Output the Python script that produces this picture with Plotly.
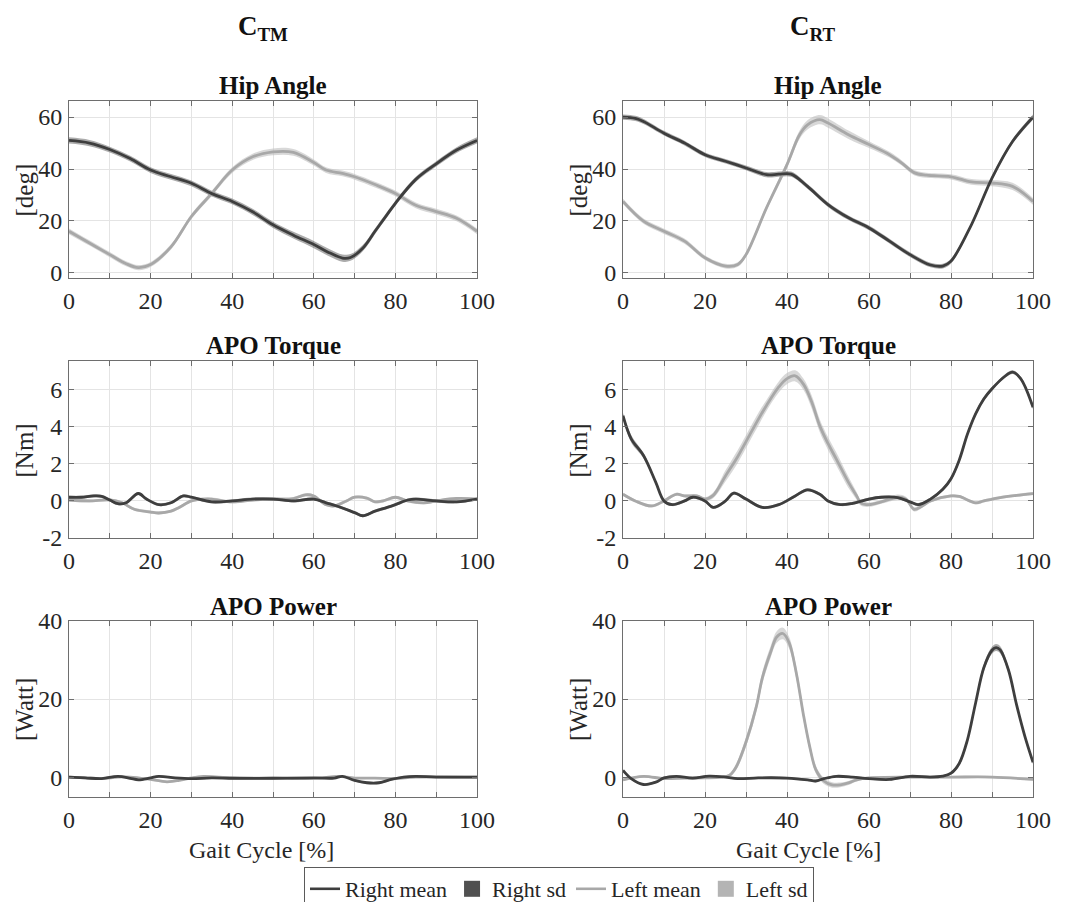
import plotly.graph_objects as go

# ---------------- data: (gait cycle %, mean, sd) ----------------
hip_tm_right = [(0, 51, 1.2), (5, 50, 1.2), (10, 47.5, 1.1), (15, 44, 1.1), (20, 39.6, 1.1), (25, 37, 1.1),
                (30, 34.5, 1.1), (35, 30.5, 1.1), (40, 27.5, 1.1), (45, 23.5, 1.2), (50, 18.5, 1.2),
                (55, 14.5, 1.3), (60, 10.9, 1.4), (64, 7.6, 1.4), (67, 5.7, 1.4), (69, 5.9, 1.3),
                (72, 9.5, 1.2), (75, 16, 1.1), (78, 22.5, 1.0), (80, 26.8, 1.0), (85, 36, 1.0), (90, 42, 1.0),
                (95, 47.3, 1.1), (100, 51, 1.2)]
hip_tm_left = [(0, 16, 1.1), (5, 11.5, 1.0), (10, 7, 1.0), (14, 3.5, 1.0), (17, 2, 1.0), (20, 3.2, 1.0),
               (25, 10, 1.0), (30, 21.7, 1.0), (35, 30.6, 1.0), (40, 39.6, 1.1), (45, 44.7, 1.2),
               (50, 46.6, 1.3), (55, 46.4, 1.3), (60, 42.5, 1.2), (63, 39.6, 1.1), (67, 38.3, 1.1),
               (70, 37, 1.1), (75, 34, 1.1), (80, 30.6, 1.1), (85, 26, 1.1), (90, 23.6, 1.1), (95, 21, 1.1),
               (100, 16, 1.1)]
hip_rt_right = [(0, 60, 1.0), (3, 59.5, 1.0), (5, 58.3, 1.0), (10, 53.8, 0.9), (15, 50, 0.9), (20, 45.5, 0.9),
                (25, 43, 0.9), (30, 40.4, 0.9), (35, 37.8, 1.0), (38, 38, 1.0), (41, 38, 1.0), (45, 33.3, 0.9),
                (50, 26.3, 0.9), (55, 21.2, 0.9), (60, 17.3, 0.9), (65, 12.2, 0.9), (70, 7, 0.9), (75, 3, 0.9),
                (78, 2.6, 0.9), (80, 4.5, 0.9), (85, 18.6, 0.8), (90, 36.5, 0.8), (95, 50.6, 0.9), (100, 60, 1.0)]
hip_rt_left = [(0, 27.5, 1.0), (5, 19.9, 1.0), (10, 16, 1.0), (15, 12.2, 1.0), (20, 5.8, 0.9), (25, 2.6, 0.9),
               (28, 3.2, 0.9), (30, 7, 0.9), (35, 25, 1.0), (40, 41.7, 1.3), (43, 53, 1.6), (45, 57, 1.8),
               (48, 59, 1.8), (50, 57.7, 1.8), (55, 53.2, 1.6), (60, 49.4, 1.3), (65, 45.5, 1.1),
               (68, 42.3, 1.0), (71, 38.6, 1.0), (74, 37.6, 1.0), (80, 37, 1.0), (85, 35, 1.1),
               (90, 34.6, 1.2), (95, 33.3, 1.4), (100, 27.5, 1.3)]

tq_tm_right = [(0, 0.2, 0.08), (3, 0.2, 0.08), (6, 0.27, 0.08), (8, 0.25, 0.08), (10, 0.05, 0.08),
               (12, -0.15, 0.08), (14, -0.1, 0.08), (17, 0.4, 0.08), (19, 0.1, 0.08), (22, -0.2, 0.08),
               (25, -0.1, 0.08), (28, 0.27, 0.08), (30, 0.2, 0.08), (35, -0.05, 0.08), (40, 0, 0.08),
               (45, 0.1, 0.08), (50, 0.1, 0.08), (55, 0, 0.08), (60, 0.1, 0.08), (63, -0.1, 0.08),
               (66, -0.3, 0.08), (70, -0.63, 0.08), (72, -0.8, 0.08), (75, -0.55, 0.08), (78, -0.35, 0.08),
               (80, -0.2, 0.08), (83, 0.05, 0.08), (85, 0.1, 0.08), (90, 0, 0.08), (95, -0.05, 0.08),
               (100, 0.1, 0.08)]
tq_tm_left = [(0, 0.05, 0.08), (5, 0, 0.08), (10, 0.05, 0.08), (13, -0.1, 0.08), (16, -0.45, 0.08),
              (20, -0.6, 0.08), (22, -0.65, 0.08), (25, -0.55, 0.08), (27, -0.35, 0.08), (30, 0, 0.08),
              (33, 0.1, 0.08), (35, 0.1, 0.08), (40, -0.05, 0.08), (45, 0.05, 0.08), (50, 0.1, 0.08),
              (55, 0.13, 0.08), (58, 0.33, 0.08), (60, 0.27, 0.08), (63, -0.2, 0.08), (65, -0.27, 0.08),
              (68, 0, 0.08), (70, 0.2, 0.08), (73, 0.15, 0.08), (75, -0.05, 0.08), (77, 0, 0.08),
              (80, 0.2, 0.08), (83, 0, 0.08), (87, -0.1, 0.08), (90, 0, 0.08), (95, 0.13, 0.08),
              (100, 0.1, 0.08)]
tq_rt_right = [(0, 4.6, 0.15), (2, 3.35, 0.2), (5, 2.45, 0.15), (8, 1, 0.1), (10, 0, 0.08), (12, -0.2, 0.08),
               (15, 0, 0.08), (17, 0.2, 0.08), (20, 0, 0.08), (22, -0.35, 0.08), (25, 0, 0.08),
               (27, 0.42, 0.08), (30, 0.1, 0.08), (34, -0.35, 0.08), (38, -0.2, 0.08), (42, 0.27, 0.08),
               (45, 0.6, 0.08), (48, 0.36, 0.08), (50, 0, 0.08), (53, -0.2, 0.08), (56, -0.13, 0.08),
               (60, 0.1, 0.08), (63, 0.2, 0.08), (67, 0.18, 0.08), (70, -0.05, 0.08), (72, -0.2, 0.08),
               (75, 0.1, 0.08), (78, 0.63, 0.1), (80, 1.2, 0.12), (82, 2.2, 0.12), (84, 3.6, 0.12),
               (86, 4.7, 0.12), (88, 5.5, 0.12), (90, 6.05, 0.1), (93, 6.7, 0.1), (95, 6.95, 0.1),
               (97, 6.6, 0.1), (100, 5.05, 0.1)]
tq_rt_left = [(0, 0.36, 0.08), (3, 0, 0.08), (7, -0.27, 0.08), (10, 0, 0.08), (13, 0.36, 0.08),
              (15, 0.27, 0.08), (18, 0.27, 0.08), (20, 0.1, 0.1), (22, 0.3, 0.15), (25, 1.35, 0.3),
              (28, 2.4, 0.35), (30, 3.2, 0.35), (33, 4.4, 0.35), (35, 5.15, 0.3), (38, 6.15, 0.3),
              (40, 6.6, 0.3), (42, 6.75, 0.3), (44, 6.3, 0.3), (46, 5.35, 0.35), (48, 4.05, 0.35),
              (50, 3.1, 0.35), (52, 2.27, 0.35), (55, 1, 0.3), (57, 0.27, 0.2), (58, -0.1, 0.15),
              (60, -0.2, 0.12), (63, -0.05, 0.1), (67, 0.2, 0.15), (69, 0.1, 0.12), (71, -0.45, 0.12),
              (73, -0.27, 0.1), (75, 0, 0.08), (80, 0.27, 0.08), (82, 0.24, 0.08), (86, -0.1, 0.08),
              (88, 0, 0.08), (92, 0.18, 0.08), (96, 0.3, 0.08), (100, 0.4, 0.08)]

pw_tm_right = [(0, 0, 0.25), (4, -0.2, 0.25), (8, -0.4, 0.25), (12, 0.2, 0.25), (15, -0.3, 0.25),
               (17, -0.7, 0.25), (20, -0.2, 0.25), (22, 0.2, 0.25), (26, -0.2, 0.25), (30, -0.4, 0.25),
               (35, -0.2, 0.25), (40, -0.3, 0.25), (50, -0.3, 0.25), (60, -0.2, 0.25), (65, -0.25, 0.25),
               (67, 0.2, 0.25), (70, -0.85, 0.25), (73, -1.45, 0.3), (76, -1.45, 0.3), (79, -0.6, 0.25),
               (82, 0, 0.25), (85, 0.2, 0.25), (90, 0, 0.25), (100, 0, 0.25)]
pw_tm_left = [(0, 0, 0.25), (4, -0.2, 0.25), (8, -0.4, 0.25), (12, 0, 0.25), (15, 0, 0.25), (20, -0.6, 0.25),
              (24, -1.2, 0.3), (27, -0.85, 0.25), (30, -0.2, 0.25), (33, 0.2, 0.25), (40, -0.2, 0.25),
              (50, -0.25, 0.25), (58, -0.4, 0.25), (62, -0.2, 0.25), (66, 0.2, 0.25), (70, -0.25, 0.25),
              (75, -0.25, 0.25), (80, -0.4, 0.25), (85, 0, 0.25), (100, 0, 0.25)]
pw_rt_right = [(0, 1.7, 0.3), (2, -0.4, 0.3), (5, -1.9, 0.3), (8, -1.3, 0.3), (10, -0.2, 0.3), (13, 0.2, 0.3),
               (17, -0.25, 0.3), (21, 0.25, 0.3), (25, 0, 0.3), (28, -0.4, 0.3), (33, -0.2, 0.3),
               (40, -0.25, 0.3), (45, -0.7, 0.3), (47, -1, 0.3), (49, -0.4, 0.3), (52, 0.2, 0.3),
               (56, 0, 0.3), (60, -0.4, 0.3), (65, -0.6, 0.3), (70, 0.2, 0.3), (75, 0, 0.3),
               (78, 0.25, 0.3), (80, 1.0, 0.4), (82, 3.5, 0.5), (84, 9.5, 0.7), (86, 19, 0.8),
               (88, 28, 0.9), (90, 32.5, 0.9), (91, 33.2, 0.9), (92, 32.6, 0.9), (94, 27.5, 0.8),
               (96, 18.5, 0.7), (98, 10.5, 0.6), (100, 3.8, 0.5)]
pw_rt_left = [(0, -0.7, 0.3), (5, 0.2, 0.3), (10, -0.4, 0.3), (15, -0.25, 0.3), (20, -0.2, 0.3), (24, 0, 0.3),
              (26, 0.5, 0.4), (27.6, 2.6, 0.8), (30, 9, 1.2), (32.5, 18, 1.4), (34, 25.5, 1.5),
              (36, 32, 1.5), (37.5, 35.9, 1.5), (39, 36.8, 1.5), (40.5, 34.5, 1.5), (42.3, 26.5, 1.5),
              (44, 16, 1.4), (45.5, 8, 1.2), (47, 2, 1.0), (49, -1, 0.8), (51, -2, 0.7), (53, -2, 0.6),
              (55, -1.5, 0.5), (57, -0.7, 0.4), (60, -0.2, 0.3), (70, 0, 0.3), (80, 0, 0.3), (90, 0, 0.3),
              (100, -0.6, 0.3)]

panel_titles = ["Hip Angle", "APO Torque", "APO Power"]
y_labels = ["[deg]", "[Nm]", "[Watt]"]
y_ranges = [[-2, 66.2], [-2, 7.55], [-5.1, 40]]
y_ticks = [[0, 20, 40, 60], [-2, 0, 2, 4, 6], [0, 20, 40]]
x_ticks = [0, 20, 40, 60, 80, 100]
x_minor_step = 10
column_titles = ["<b>C<sub>TM</sub></b>", "<b>C<sub>RT</sub></b>"]
x_title = "Gait Cycle [%]"
legend_names = ["Right mean", "Right sd", "Left mean", "Left sd"]

panels = [  # (row, col, right series, left series)
    (0, 0, hip_tm_right, hip_tm_left), (0, 1, hip_rt_right, hip_rt_left),
    (1, 0, tq_tm_right, tq_tm_left), (1, 1, tq_rt_right, tq_rt_left),
    (2, 0, pw_tm_right, pw_tm_left), (2, 1, pw_rt_right, pw_rt_left),
]

# ---------------- style ----------------
OFF = 8                      # page body margin of the browser
W, H = 1067 - OFF, 902 - OFF
FONT = "Liberation Serif"
TXT = "#262626"
AX = "#6e6e6e"
GRID = "#e4e4e4"
RIGHT_LINE = "#3e3e3e"
LEFT_LINE = "#a8a8a8"
RIGHT_BAND = "rgba(70,70,70,0.45)"
LEFT_BAND = "rgba(190,190,190,0.6)"
RIGHT_SD_LEG = "#505050"
LEFT_SD_LEG = "#b4b4b4"

# layout positions in screenshot pixels
col_px = [(69, 477), (623, 1033)]
row_px = [(101, 278), (361, 538), (621, 797)]


def fx(p):
    return (p - OFF) / W


def fy(p):
    return 1 - (p - OFF) / H


fig = go.Figure()
layout_axes = {}
annotations = []

for row, col, right, left in panels:
    n = row * 2 + col + 1
    sfx = "" if n == 1 else str(n)
    xa, ya = "x" + sfx, "y" + sfx

    def band(series, color):
        xs = [p[0] for p in series]
        lo = [p[1] - p[2] for p in series]
        hi = [p[1] + p[2] for p in series]
        fig.add_trace(go.Scatter(x=xs, y=lo, mode="lines", line=dict(width=0, shape="spline"),
                                 xaxis=xa, yaxis=ya, showlegend=False, hoverinfo="skip"))
        fig.add_trace(go.Scatter(x=xs, y=hi, mode="lines", line=dict(width=0, shape="spline"),
                                 fill="tonexty", fillcolor=color,
                                 xaxis=xa, yaxis=ya, showlegend=False, hoverinfo="skip"))

    def mean(series, color):
        fig.add_trace(go.Scatter(x=[p[0] for p in series], y=[p[1] for p in series], mode="lines",
                                 line=dict(width=2.8, color=color, shape="spline"),
                                 xaxis=xa, yaxis=ya, showlegend=False))

    band(left, LEFT_BAND)
    band(right, RIGHT_BAND)
    mean(left, LEFT_LINE)
    mean(right, RIGHT_LINE)

    x0, x1 = col_px[col]
    y0, y1 = row_px[row]
    common = dict(showline=True, linecolor=AX, linewidth=1, mirror="ticks", ticks="inside", ticklen=5,
                  tickcolor=AX, showgrid=True, gridcolor=GRID, gridwidth=1, zeroline=False,
                  automargin=False, fixedrange=True,
                  tickfont=dict(family=FONT, size=24, color=TXT))
    layout_axes["xaxis" + sfx] = dict(
        domain=[fx(x0), fx(x1)], anchor=ya, range=[0, 100], tickvals=x_ticks, ticklabelstandoff=1,
        minor=dict(dtick=x_minor_step, tick0=0, ticks="inside", ticklen=5, tickcolor=AX,
                   showgrid=True, gridcolor=GRID, gridwidth=1),
        **common)
    layout_axes["yaxis" + sfx] = dict(
        domain=[fy(y1), fy(y0)], anchor=xa, range=y_ranges[row], tickvals=y_ticks[row],
        ticktext=[str(v) for v in y_ticks[row]], ticklabelstandoff=1, **common)

    # subplot title
    annotations.append(dict(text="<b>" + panel_titles[row] + "</b>", x=fx((x0 + x1) / 2), y=fy(y0 - 15),
                            xref="paper", yref="paper", xanchor="center", yanchor="middle", showarrow=False,
                            font=dict(family=FONT, size=25, color="#111111")))
    # y label
    annotations.append(dict(text=y_labels[row], x=fx(24 if col == 0 else 578), y=fy((y0 + y1) / 2 + 1),
                            xref="paper", yref="paper", xanchor="center", yanchor="middle", showarrow=False,
                            textangle=-90, font=dict(family=FONT, size=25, color=TXT)))

# column titles and x titles
for col, (cx, gx) in enumerate([(263, 261), (812, 808)]):
    annotations.append(dict(text=column_titles[col], x=fx(cx), y=fy(28), xref="paper", yref="paper",
                            xanchor="center", yanchor="middle", showarrow=False,
                            font=dict(family=FONT, size=27, color="#111111")))
    annotations.append(dict(text=x_title, x=fx(gx), y=fy(850), xref="paper", yref="paper",
                            xanchor="center", yanchor="middle", showarrow=False,
                            font=dict(family=FONT, size=24, color=TXT)))

# legend entries
fig.add_trace(go.Scatter(x=[None], y=[None], mode="lines", name=legend_names[0],
                         line=dict(color=RIGHT_LINE, width=2.6)))
fig.add_trace(go.Scatter(x=[None], y=[None], mode="markers", name=legend_names[1],
                         marker=dict(symbol="square", size=16, color=RIGHT_SD_LEG)))
fig.add_trace(go.Scatter(x=[None], y=[None], mode="lines", name=legend_names[2],
                         line=dict(color=LEFT_LINE, width=2.6)))
fig.add_trace(go.Scatter(x=[None], y=[None], mode="markers", name=legend_names[3],
                         marker=dict(symbol="square", size=16, color=LEFT_SD_LEG)))

fig.update_layout(
    width=W, height=H, margin=dict(l=0, r=0, t=0, b=0, autoexpand=False),
    paper_bgcolor="white", plot_bgcolor="white",
    annotations=annotations,
    showlegend=True,
    legend=dict(orientation="h", x=fx(559), xanchor="center", y=fy(867), yanchor="top",
                bordercolor="#5a5a5a", borderwidth=1, bgcolor="white",
                font=dict(family=FONT, size=22, color=TXT), itemwidth=30, traceorder="normal"),
    **layout_axes,
)

fig.write_html("out.html")
